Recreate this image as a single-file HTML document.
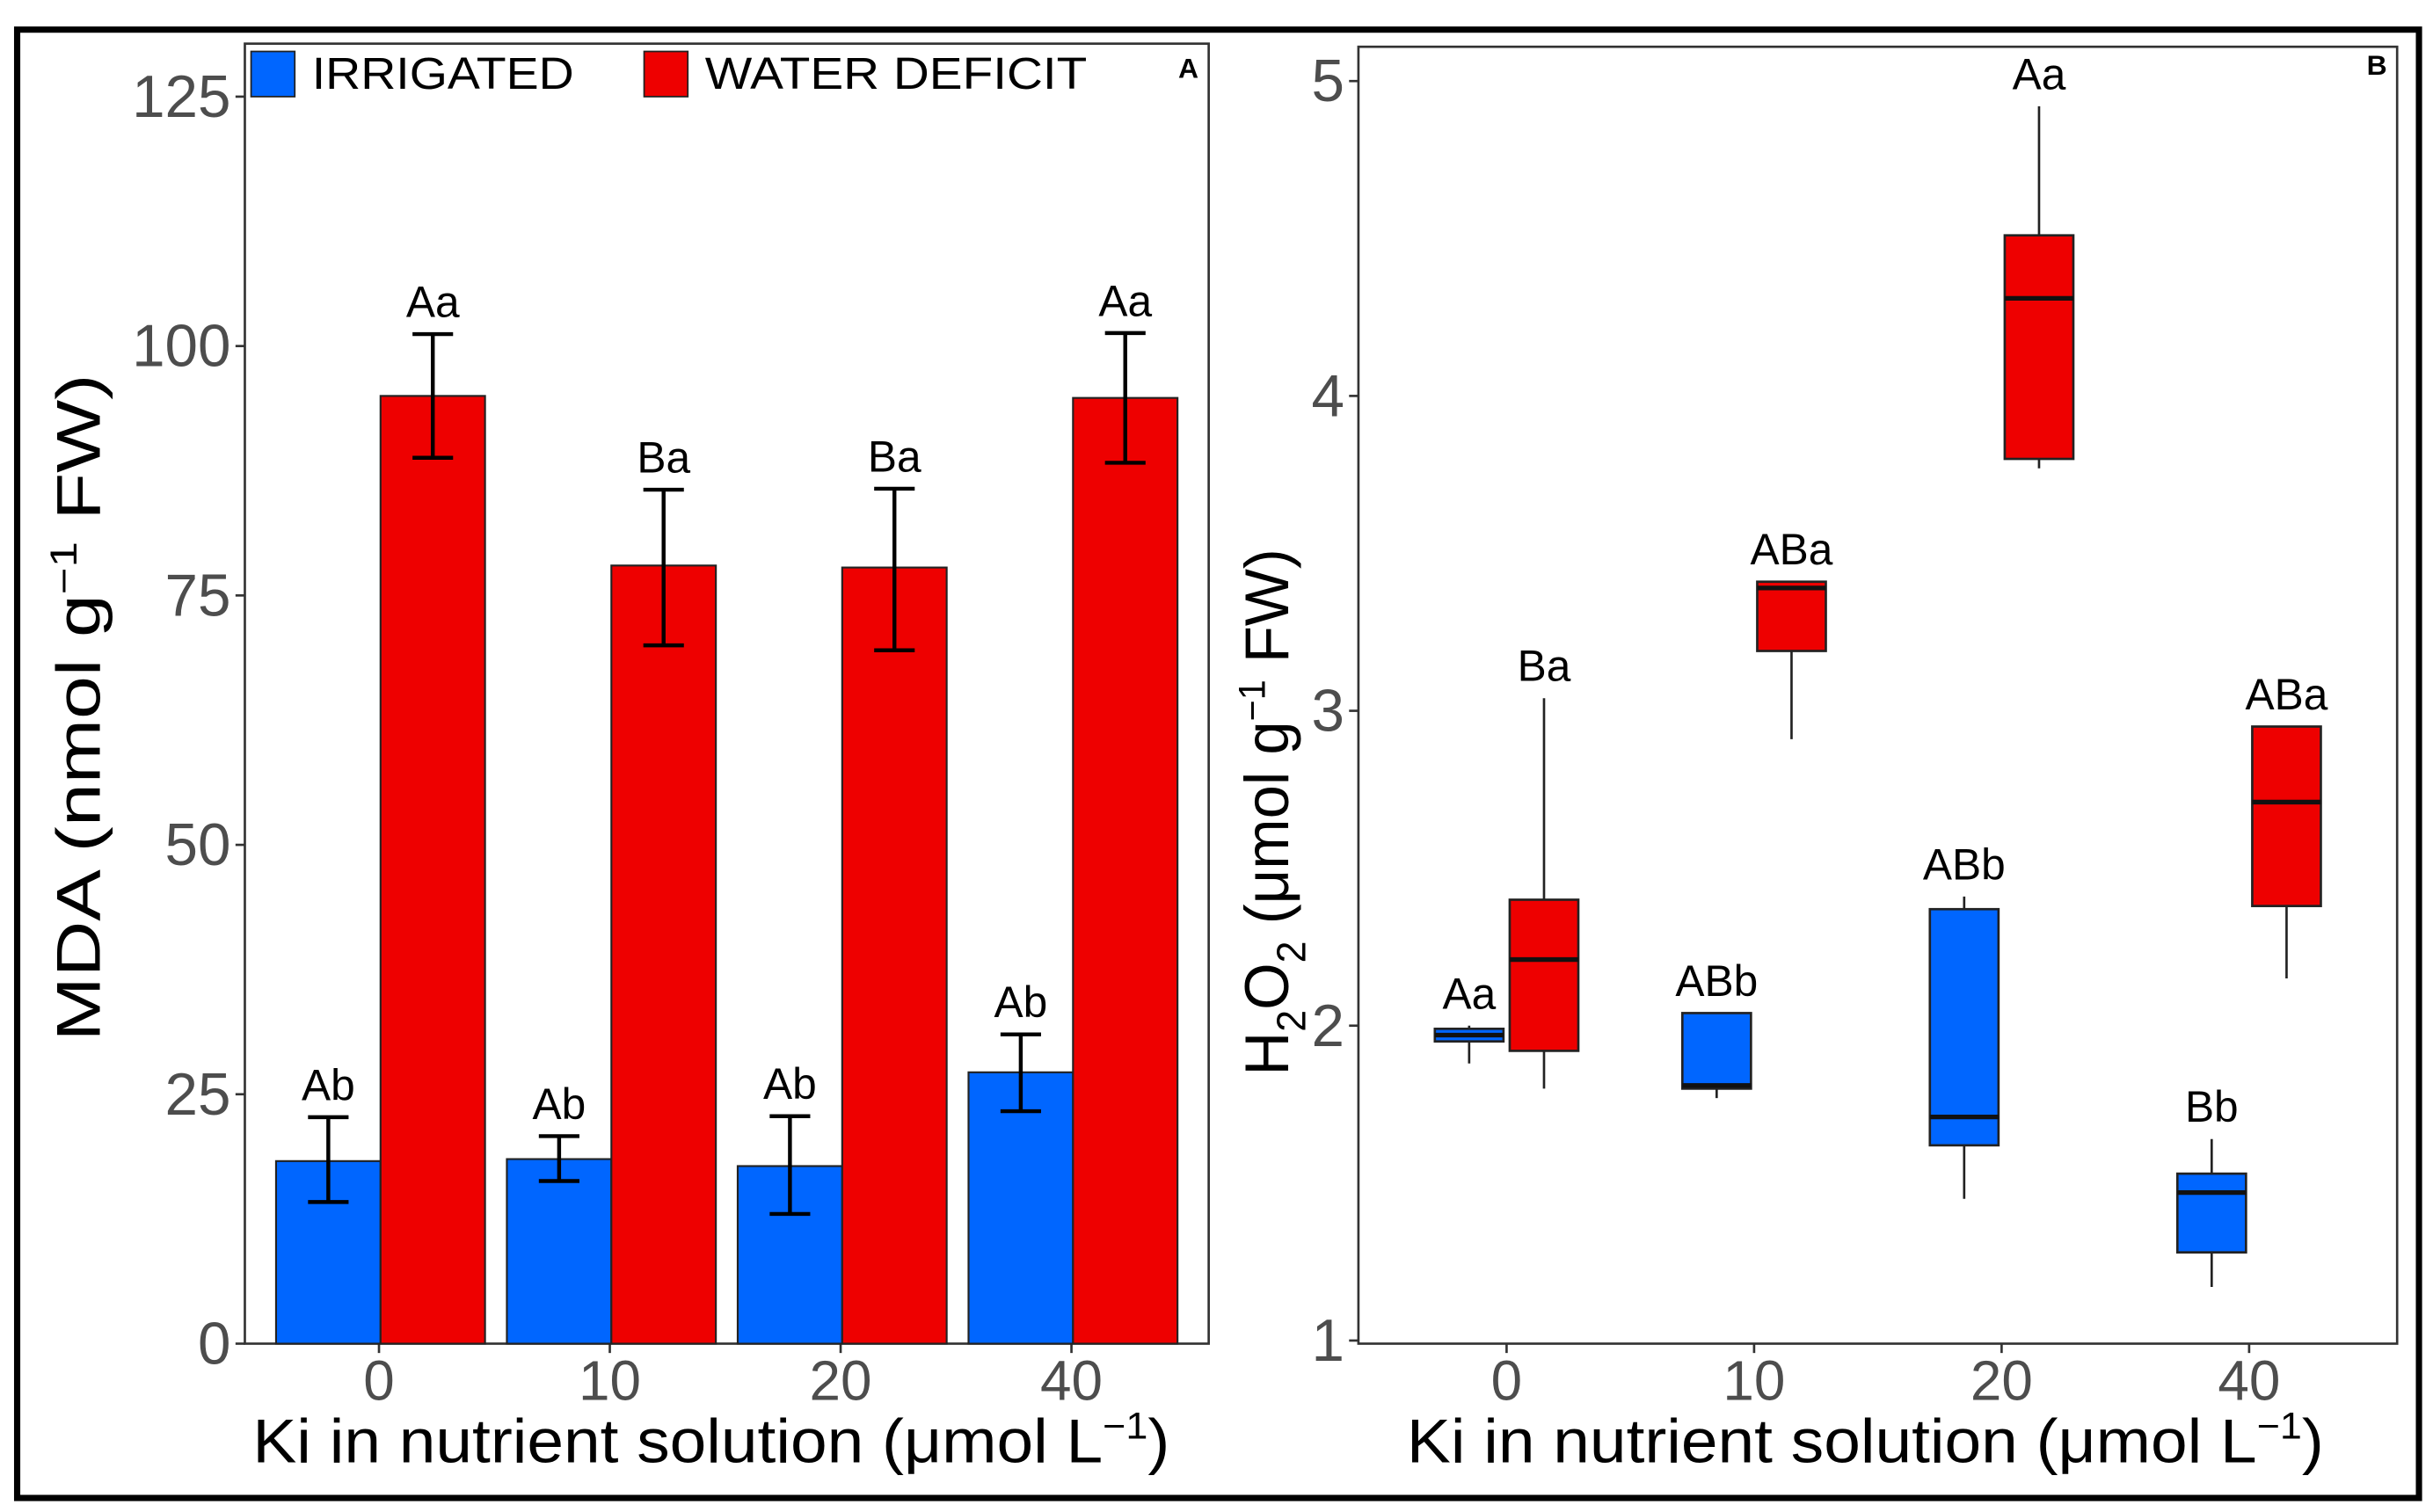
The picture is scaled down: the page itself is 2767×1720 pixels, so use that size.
<!DOCTYPE html>
<html><head><meta charset="utf-8"><style>
html,body{margin:0;padding:0;background:#fff}
svg{display:block}
text{font-family:"Liberation Sans",sans-serif}
</style></head><body>
<svg id="fig" width="2767" height="1720" viewBox="0 0 1560 970" preserveAspectRatio="none" xmlns="http://www.w3.org/2000/svg">
<rect x="11" y="19" width="1540" height="942" fill="none" stroke="#000" stroke-width="4"/>
<g id="pa"></g>
<g id="pb"></g>
</svg>
<script>
const NS="http://www.w3.org/2000/svg";
// Panel A data
const catsA=["0","10","20","40"];
const irrMean=[18.3,18.5,17.8,27.2];
const irrLo=[14.2,16.3,13.0,23.3];
const irrHi=[22.7,20.8,22.8,31.0];
const defMean=[95.0,78.0,77.8,94.8];
const defLo=[88.8,70.0,69.5,88.3];
const defHi=[101.2,85.6,85.7,101.3];
const irrLetters=["Ab","Ab","Ab","Ab"];
const defLetters=["Aa","Ba","Ba","Aa"];
const ticksA=[0,25,50,75,100,125];
// Panel B data
const catsB=["0","10","20","40"];
const bMin=[1.88,1.77,1.45,1.17];
const bQ1=[1.95,1.80,1.62,1.28];
const bMed=[1.97,1.81,1.71,1.47];
const bQ3=[1.99,2.04,2.37,1.53];
const bMax=[2.00,2.04,2.41,1.64];
const rMin=[1.80,2.91,3.77,2.15];
const rQ1=[1.92,3.19,3.80,2.38];
const rMed=[2.21,3.39,4.31,2.71];
const rQ3=[2.40,3.41,4.51,2.95];
const rMax=[3.04,3.41,4.92,2.95];
const bLetters=["Aa","ABb","ABb","Bb"];
const rLetters=["Ba","ABa","Aa","ABa"];
const ticksB=[1,2,3,4,5];

function mk(parent,tag,attrs,txt){const e=document.createElementNS(NS,tag);for(const k in attrs)e.setAttribute(k,attrs[k]);if(txt!==undefined)e.textContent=txt;parent.appendChild(e);return e;}
const BLUE="#0066ff",RED="#ee0000";

// ---------- Panel A ----------
const pa=document.getElementById('pa');
const yA=v=>862-v*6.4;
const xA=i=>243+i*148;
let e=mk(pa,'rect',{x:157,y:28,width:618,height:834,fill:'none',stroke:'#333','stroke-width':1.5});


ticksA.forEach(t=>{
  let l=mk(pa,'line',{x1:151,x2:157,y1:yA(t),y2:yA(t),stroke:'#333','stroke-width':1.5});
  
  
  let tx=mk(pa,'text',{x:148,y:yA(t)+13,'text-anchor':'end','font-size':38,fill:'#4d4d4d'},String(t));
  
  
});
catsA.forEach((c,i)=>{
  let l=mk(pa,'line',{x1:xA(i),x2:xA(i),y1:862,y2:868,stroke:'#333','stroke-width':1.5});
  
  
  let tx=mk(pa,'text',{x:xA(i),y:898,'text-anchor':'middle','font-size':36,fill:'#4d4d4d'},c);
  
  
  [[irrMean,irrLo,irrHi,irrLetters,BLUE,-67,'bar-irrigated'],[defMean,defLo,defHi,defLetters,RED,0,'bar-deficit']].forEach(s=>{
    const x0=xA(i)+1+s[5];
    let r=mk(pa,'rect',{x:x0,y:yA(s[0][i]),width:67,height:yA(0)-yA(s[0][i]),fill:s[4],stroke:'#222','stroke-width':1.2});
    
    
    const cx=x0+33.5;
    let g=mk(pa,'path',{d:`M${cx},${yA(s[1][i])}V${yA(s[2][i])}M${cx-13},${yA(s[1][i])}H${cx+13}M${cx-13},${yA(s[2][i])}H${cx+13}`,stroke:'#000','stroke-width':2.5,fill:'none'});
    
    
    let lt=mk(pa,'text',{x:cx,y:yA(s[2][i])-11,'text-anchor':'middle','font-size':28,fill:'#000'},s[3][i]);
    
    
  });
});
// legend
e=mk(pa,'rect',{x:161,y:33,width:28,height:29,fill:BLUE,stroke:'#222','stroke-width':1});


e=mk(pa,'text',{x:200,y:57,'font-size':29,fill:'#000',textLength:168,lengthAdjust:'spacingAndGlyphs'},'IRRIGATED');


e=mk(pa,'rect',{x:413,y:33,width:28,height:29,fill:RED,stroke:'#222','stroke-width':1});


e=mk(pa,'text',{x:452,y:57,'font-size':29,fill:'#000',textLength:245,lengthAdjust:'spacingAndGlyphs'},'WATER DEFICIT');


e=mk(pa,'text',{x:762,y:50,'text-anchor':'middle','font-size':18,'font-weight':'bold',fill:'#000'},'A');


e=mk(pa,'text',{x:0,y:0,'text-anchor':'middle','font-size':40,fill:'#000',transform:'translate(64,454) rotate(-90)',textLength:428,lengthAdjust:'spacingAndGlyphs'});


e.innerHTML='MDA (nmol g<tspan dy="-15" font-size="24">−1</tspan><tspan dy="15"> FW)</tspan>';
e=mk(pa,'text',{x:456,y:938,'text-anchor':'middle','font-size':40,fill:'#000',textLength:588,lengthAdjust:'spacingAndGlyphs'});


e.innerHTML='Ki in nutrient solution (μmol L<tspan dy="-15" font-size="24">−1</tspan><tspan dy="15">)</tspan>';

// ---------- Panel B ----------
const pb=document.getElementById('pb');
const yB=v=>860-(v-1)*202;
const xB=i=>966+i*158.7;
e=mk(pb,'rect',{x:871,y:30,width:666,height:832,fill:'none',stroke:'#333','stroke-width':1.5});


ticksB.forEach(t=>{
  let l=mk(pb,'line',{x1:865,x2:871,y1:yB(t),y2:yB(t),stroke:'#333','stroke-width':1.5});
  
  
  let tx=mk(pb,'text',{x:862,y:yB(t)+13,'text-anchor':'end','font-size':38,fill:'#4d4d4d'},String(t));
  
  
});
catsB.forEach((c,i)=>{
  let l=mk(pb,'line',{x1:xB(i),x2:xB(i),y1:862,y2:868,stroke:'#333','stroke-width':1.5});
  
  
  let tx=mk(pb,'text',{x:xB(i),y:898,'text-anchor':'middle','font-size':36,fill:'#4d4d4d'},c);
  
  
  [[bMin,bQ1,bMed,bQ3,bMax,bLetters,BLUE,-24,'box-irrigated'],[rMin,rQ1,rMed,rQ3,rMax,rLetters,RED,24,'box-deficit']].forEach(s=>{
    const cx=xB(i)+s[7];
    let w=mk(pb,'path',{d:`M${cx},${yB(s[0][i])}V${yB(s[1][i])}M${cx},${yB(s[3][i])}V${yB(s[4][i])}`,stroke:'#222','stroke-width':1.5});
    
    
    let r=mk(pb,'rect',{x:cx-22,y:yB(s[3][i]),width:44,height:yB(s[1][i])-yB(s[3][i]),fill:s[6],stroke:'#222','stroke-width':1.5});
    
    
    let m=mk(pb,'line',{x1:cx-22,x2:cx+22,y1:yB(s[2][i]),y2:yB(s[2][i]),stroke:'#111','stroke-width':3});
    
    
    let lt=mk(pb,'text',{x:cx,y:yB(s[4][i])-11,'text-anchor':'middle','font-size':28,fill:'#000'},s[5][i]);
    
    
  });
});
e=mk(pb,'text',{x:1524,y:48,'text-anchor':'middle','font-size':18,'font-weight':'bold',fill:'#000'},'B');


e=mk(pb,'text',{x:0,y:0,'text-anchor':'middle','font-size':40,fill:'#000',transform:'translate(826,521) rotate(-90)',textLength:338,lengthAdjust:'spacingAndGlyphs'});


e.innerHTML='H<tspan dy="11" font-size="26">2</tspan><tspan dy="-11">O</tspan><tspan dy="11" font-size="26">2</tspan><tspan dy="-11"> (μmol g</tspan><tspan dy="-15" font-size="24">−1</tspan><tspan dy="15"> FW)</tspan>';
e=mk(pb,'text',{x:1196,y:938,'text-anchor':'middle','font-size':40,fill:'#000',textLength:588,lengthAdjust:'spacingAndGlyphs'});


e.innerHTML='Ki in nutrient solution (μmol L<tspan dy="-15" font-size="24">−1</tspan><tspan dy="15">)</tspan>';
</script>
</body></html>
